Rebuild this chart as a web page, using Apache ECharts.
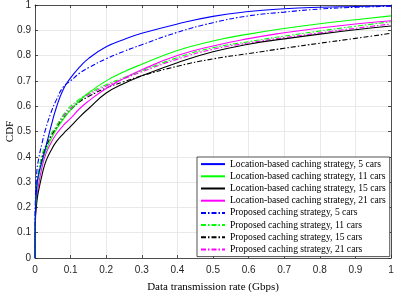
<!DOCTYPE html>
<html>
<head>
<meta charset="utf-8">
<script src="https://cdn.jsdelivr.net/npm/echarts@6/dist/echarts.min.js"></script>
<style>
html,body{margin:0;padding:0;background:#fff;}
#chart{width:400px;height:295px;}
</style>
</head>
<body>
<div id="chart"></div>
<script>
// Data rate (Gbps) sample points
var rates = [0, 0.001, 0.005, 0.01, 0.02, 0.03, 0.045, 0.06, 0.08, 0.1, 0.125, 0.15, 0.2, 0.25, 0.3, 0.4, 0.5, 0.6, 0.7, 0.8, 0.9, 1.0];

// Location-based caching strategy CDFs
var loc5  = [0, 0.17, 0.285, 0.33, 0.385, 0.437, 0.52, 0.595, 0.668, 0.712, 0.754, 0.788, 0.835, 0.864, 0.888, 0.925, 0.955, 0.974, 0.985, 0.991, 0.994, 0.997];
var loc11 = [0, 0.17, 0.265, 0.32, 0.38, 0.422, 0.47, 0.508, 0.55, 0.585, 0.622, 0.652, 0.70, 0.736, 0.766, 0.82, 0.858, 0.885, 0.907, 0.926, 0.942, 0.957];
var loc15 = [0, 0.14, 0.22, 0.265, 0.33, 0.38, 0.425, 0.46, 0.492, 0.52, 0.557, 0.59, 0.652, 0.69, 0.72, 0.772, 0.815, 0.845, 0.866, 0.885, 0.902, 0.917];
var loc21 = [0, 0.15, 0.24, 0.29, 0.36, 0.41, 0.455, 0.49, 0.525, 0.552, 0.59, 0.62, 0.67, 0.71, 0.744, 0.80, 0.838, 0.867, 0.89, 0.909, 0.925, 0.938];

// Proposed caching strategy CDFs
var prop5  = [0, 0.22, 0.34, 0.39, 0.455, 0.51, 0.575, 0.625, 0.677, 0.70, 0.73, 0.752, 0.787, 0.817, 0.843, 0.892, 0.93, 0.957, 0.972, 0.984, 0.991, 0.995];
var prop11 = [0, 0.19, 0.29, 0.34, 0.41, 0.445, 0.49, 0.522, 0.567, 0.6, 0.628, 0.65, 0.685, 0.713, 0.74, 0.792, 0.831, 0.855, 0.877, 0.897, 0.916, 0.934];
var prop15 = [0, 0.18, 0.28, 0.33, 0.395, 0.435, 0.48, 0.513, 0.553, 0.585, 0.617, 0.638, 0.672, 0.697, 0.72, 0.758, 0.787, 0.808, 0.829, 0.849, 0.868, 0.888];
var prop21 = [0, 0.185, 0.285, 0.335, 0.40, 0.44, 0.485, 0.518, 0.562, 0.592, 0.622, 0.645, 0.68, 0.709, 0.736, 0.786, 0.825, 0.85, 0.871, 0.89, 0.908, 0.925];

var seriesNames = [
  'Location-based caching strategy, 5 cars',
  'Location-based caching strategy, 11 cars',
  'Location-based caching strategy, 15 cars',
  'Location-based caching strategy, 21 cars',
  'Proposed caching strategy, 5 cars',
  'Proposed caching strategy, 11 cars',
  'Proposed caching strategy, 15 cars',
  'Proposed caching strategy, 21 cars'
];
var seriesValues = [loc5, loc11, loc15, loc21, prop5, prop11, prop15, prop21];
var xTicks = ['0','0.1','0.2','0.3','0.4','0.5','0.6','0.7','0.8','0.9','1'];
var yTicks = ['0','0.1','0.2','0.3','0.4','0.5','0.6','0.7','0.8','0.9','1'];

var colors = ['#0000ff', '#00ff00', '#000000', '#ff00ff', '#0000ff', '#00ff00', '#000000', '#ff00ff'];
var dashDot = [5, 2, 1.5, 2];

var series = seriesValues.map(function (vals, i) {
  return {
    name: seriesNames[i],
    type: 'line',
    showSymbol: false,
    symbol: 'none',
    smooth: 0.5,
    animation: false,
    data: rates.map(function (x, k) { return [x, vals[k]]; }),
    lineStyle: { color: colors[i], width: 1.1, type: i < 4 ? 'solid' : dashDot },
    itemStyle: { color: colors[i] },
    z: 10 - i
  };
});

var axisColor = '#262626';
var labelStyle = { fontFamily: 'Liberation Sans, Arial, sans-serif', fontSize: 10, color: axisColor };

var chart = echarts.init(document.getElementById('chart'), null, { renderer: 'canvas' });
chart.setOption({
  backgroundColor: '#ffffff',
  animation: false,
  grid: { left: 35, right: 9, top: 5, bottom: 37, containLabel: false, outerBoundsMode: 'none' },
  legend: {
    show: true,
    orient: 'vertical',
    left: 197,
    top: 157,
    data: seriesNames,
    backgroundColor: '#ffffff',
    borderColor: '#262626',
    borderWidth: 0.8,
    padding: [1, 4, 1, 3],
    itemWidth: 24,
    itemHeight: 10,
    itemGap: 0,
    itemStyle: { opacity: 0, borderWidth: 0 },
    textStyle: { fontFamily: 'Liberation Serif, Times New Roman, serif', fontSize: 9.6, color: '#000', lineHeight: 12.2 }
  },
  xAxis: [{
    type: 'value', min: 0, max: 1, interval: 0.1,
    name: 'Data transmission rate (Gbps)', nameLocation: 'middle', nameGap: 24, nameMoveOverlap: false,
    nameTextStyle: { fontFamily: 'Liberation Serif, Times New Roman, serif', fontSize: 11, color: '#000' },
    axisLine: { show: true, onZero: false, lineStyle: { color: axisColor, width: 0.8 } },
    axisTick: { show: true, inside: true, length: 3, lineStyle: { color: axisColor, width: 0.8 } },
    axisLabel: Object.assign({ margin: 7, formatter: function (v) { return xTicks[Math.round(v * 10)]; } }, labelStyle),
    splitLine: { show: true, lineStyle: { color: '#e3e3e3', width: 0.8 } }
  }, {
    type: 'value', min: 0, max: 1, interval: 0.1, position: 'top',
    axisLine: { show: true, onZero: false, lineStyle: { color: axisColor, width: 0.8 } },
    axisTick: { show: true, inside: true, length: 3, lineStyle: { color: axisColor, width: 0.8 } },
    axisLabel: { show: false }, splitLine: { show: false }
  }],
  yAxis: [{
    type: 'value', min: 0, max: 1, interval: 0.1,
    name: 'CDF', nameLocation: 'middle', nameGap: 19, nameMoveOverlap: false,
    nameTextStyle: { fontFamily: 'Liberation Serif, Times New Roman, serif', fontSize: 11, color: '#000' },
    axisLine: { show: true, onZero: false, lineStyle: { color: axisColor, width: 0.8 } },
    axisTick: { show: true, inside: true, length: 3, lineStyle: { color: axisColor, width: 0.8 } },
    axisLabel: Object.assign({ margin: 4, formatter: function (v) { return yTicks[Math.round(v * 10)]; } }, labelStyle),
    splitLine: { show: true, lineStyle: { color: '#e3e3e3', width: 0.8 } }
  }, {
    type: 'value', min: 0, max: 1, interval: 0.1, position: 'right',
    axisLine: { show: true, onZero: false, lineStyle: { color: axisColor, width: 0.8 } },
    axisTick: { show: true, inside: true, length: 3, lineStyle: { color: axisColor, width: 0.8 } },
    axisLabel: { show: false }, splitLine: { show: false }
  }],
  series: series
});
</script>
</body>
</html>
